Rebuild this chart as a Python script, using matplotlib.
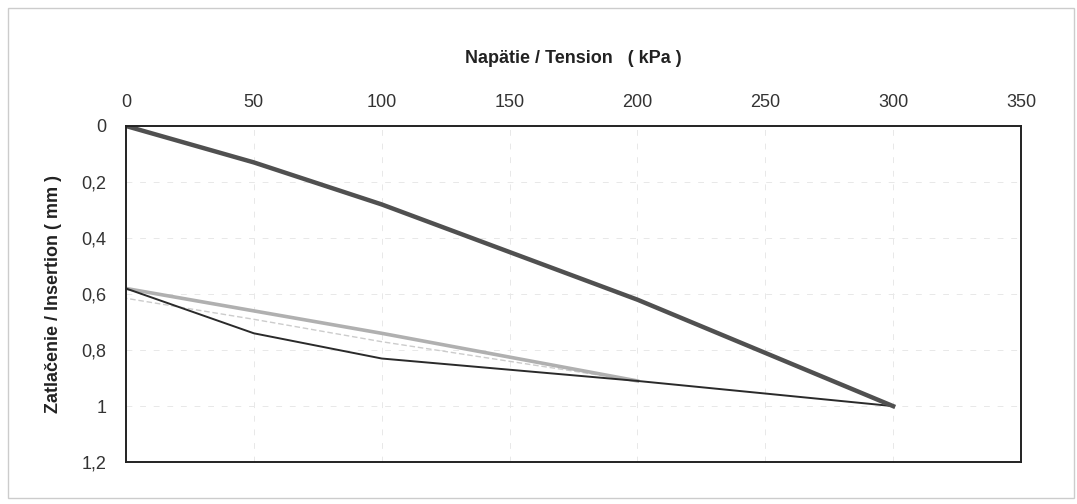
import matplotlib.pyplot as plt
from matplotlib.ticker import FuncFormatter
from matplotlib.patches import Rectangle

plt.rcParams['font.family'] = ['Liberation Sans', 'DejaVu Sans']

# Data
load_x = [0, 50, 100, 200, 300]
load_y = [0, 0.13, 0.28, 0.62, 1.0]

unload_x = [300, 200, 100, 50, 0]
unload_y = [1.0, 0.91, 0.83, 0.74, 0.58]

reload_x = [0, 50, 100, 200]
reload_y = [0.58, 0.66, 0.74, 0.91]

unload2_x = [200, 100, 50, 0]
unload2_y = [0.91, 0.77, 0.69, 0.615]

x_ticks = [0, 50, 100, 150, 200, 250, 300, 350]
y_ticks = [0, 0.2, 0.4, 0.6, 0.8, 1.0, 1.2]

fig = plt.figure(figsize=(10.77, 5.04), dpi=100)
ax = fig.add_axes([0.117, 0.083, 0.831, 0.667])

ax.plot(unload2_x, unload2_y, color='#cccccc', lw=1.0, ls=(0, (4, 2)))
ax.plot(reload_x, reload_y, color='#b0b0b0', lw=2.6)
ax.plot(unload_x, unload_y, color='#2a2a2a', lw=1.4)
ax.plot(load_x, load_y, color='#505050', lw=3.2)

ax.set_xlim(0, 350)
ax.set_ylim(1.2, 0)
ax.set_xticks(x_ticks)
ax.set_yticks(y_ticks)
ax.xaxis.tick_top()
ax.xaxis.set_label_position('top')
ax.yaxis.set_major_formatter(FuncFormatter(lambda v, p: f"{v:g}".replace('.', ',')))
ax.tick_params(length=0, labelsize=13, colors='#333333', pad=11)
ax.tick_params(axis='y', pad=14)
ax.grid(True, color='#e8e8e8', lw=0.7, ls=(0, (6, 8)))

for s in ax.spines.values():
    s.set_color('#222222')
    s.set_linewidth(1.4)

ax.set_xlabel("Napätie / Tension   ( kPa )", fontsize=13, fontweight='bold',
              color='#222222', labelpad=22)
ax.set_ylabel("Zatlačenie / Insertion ( mm )", fontsize=13, fontweight='bold',
              color='#222222', labelpad=14)

# outer chart frame
fig.patches.append(Rectangle((0.007, 0.012), 0.99, 0.972, transform=fig.transFigure,
                             fill=False, edgecolor='#cccccc', lw=1.0))

plt.savefig("out.png", dpi=100)
